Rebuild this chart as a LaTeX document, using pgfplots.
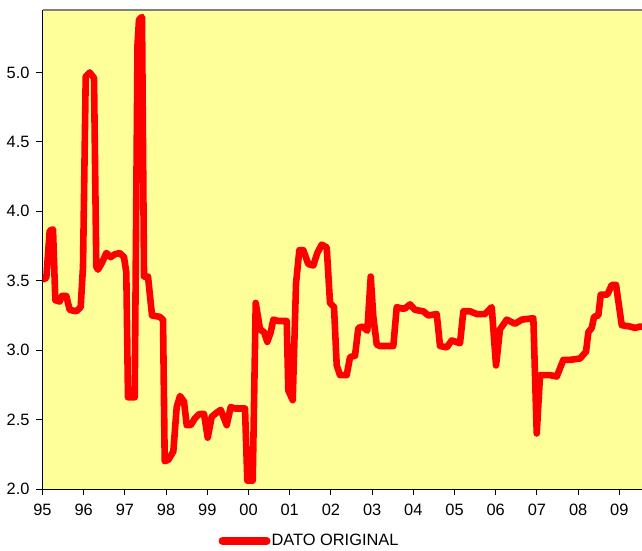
\documentclass[border=0pt]{standalone}
\usepackage{pgfplots}
\pgfplotsset{compat=1.18}
\usepackage{fontspec}
\setmainfont{Liberation Sans}

\definecolor{plotbg}{HTML}{FFFF99}
\definecolor{topline}{HTML}{808080}

\begin{document}
\begin{tikzpicture}
\begin{axis}[
    name=ax,
    at={(0,0)}, anchor=south west,
    scale only axis,
    width=299.75pt, height=239.5pt,
    xmin=0, xmax=14.55,
    ymin=2.0, ymax=5.45,
    axis x line*=bottom,
    axis y line*=left,
    axis line style={black, line width=0.5pt},
    axis background/.style={fill=plotbg},
    xtick={0,1,...,14},
    xticklabels={95,96,97,98,99,00,01,02,03,04,05,06,07,08,09},
    ytick={2.0,2.5,...,5.0},
    yticklabel style={/pgf/number format/.cd, fixed, fixed zerofill, precision=1, assume math mode=true},
    tick style={black, line width=0.5pt},
    tick align=outside,
    major tick length=3pt,
    ticklabel style={font=\fontsize{8.2}{9.8}\selectfont},
    xticklabel style={yshift=-1pt},
    legend style={
        at={(0.293,-0.1086)}, anchor=west,
        draw=none, fill=none,
        font=\fontsize{8.2}{9.8}\selectfont,
        inner sep=0pt, row sep=0pt,
        nodes={inner xsep=0.5pt},
    },
    legend cell align=left,
    legend image code/.code={
        \draw[#1, line width=4pt, line cap=round] (2pt,0pt) -- (24pt,0pt);
    },
]
\addplot[red, line width=3.3pt, line join=round, line cap=round] coordinates {
(0.012,3.51) (0.092,3.52) (0.175,3.86) (0.255,3.87) (0.311,3.36)
(0.417,3.35) (0.473,3.39) (0.578,3.39) (0.660,3.29) (0.820,3.28)
(0.927,3.31) (0.983,3.60) (1.049,4.97) (1.146,5.00) (1.250,4.96)
(1.306,3.60) (1.347,3.58) (1.444,3.63) (1.549,3.70) (1.655,3.67)
(1.752,3.69) (1.874,3.70) (1.978,3.67) (2.034,3.56) (2.075,2.66)
(2.238,2.66) (2.306,5.20) (2.342,5.38) (2.415,5.40) (2.464,3.53)
(2.561,3.53) (2.658,3.25) (2.845,3.24) (2.925,3.22) (2.966,2.20)
(3.053,2.21) (3.175,2.27) (3.257,2.59) (3.337,2.67) (3.434,2.63)
(3.500,2.46) (3.597,2.46) (3.701,2.51) (3.806,2.54) (3.920,2.54)
(4.010,2.37) (4.107,2.52) (4.228,2.55) (4.325,2.57) (4.471,2.46)
(4.568,2.59) (4.672,2.58) (4.915,2.58) (4.971,2.06) (5.102,2.06)
(5.175,3.34) (5.279,3.15) (5.376,3.13) (5.456,3.06) (5.539,3.13)
(5.602,3.22) (5.723,3.21) (5.927,3.21) (5.966,2.71) (6.073,2.64)
(6.153,3.48) (6.233,3.72) (6.330,3.72) (6.451,3.62) (6.573,3.61)
(6.670,3.70) (6.777,3.76) (6.898,3.74) (6.978,3.34) (7.075,3.31)
(7.141,2.89) (7.221,2.82) (7.383,2.82) (7.464,2.95) (7.585,2.96)
(7.665,3.16) (7.772,3.17) (7.883,3.14) (7.966,3.53) (8.029,3.24)
(8.112,3.04) (8.192,3.03) (8.515,3.03) (8.597,3.31) (8.718,3.30)
(8.799,3.30) (8.920,3.33) (9.041,3.29) (9.243,3.28) (9.364,3.25)
(9.568,3.26) (9.648,3.03) (9.811,3.02) (9.932,3.07) (10.133,3.05)
(10.214,3.28) (10.376,3.28) (10.539,3.26) (10.740,3.26) (10.903,3.31)
(11.007,2.89) (11.104,3.15) (11.267,3.22) (11.468,3.19) (11.631,3.22)
(11.913,3.23) (11.995,2.40) (12.075,2.82) (12.318,2.82) (12.481,2.81)
(12.641,2.93) (12.803,2.93) (13.046,2.94) (13.192,2.99) (13.248,3.13)
(13.330,3.16) (13.386,3.24) (13.490,3.25) (13.549,3.40) (13.709,3.40)
(13.816,3.47) (13.920,3.47) (14.058,3.18) (14.260,3.17) (14.381,3.16)
(14.502,3.17) (14.624,3.17)
};
\addlegendentry{DATO ORIGINAL}
\draw[topline, line width=0.8pt] (rel axis cs:0,1) -- (rel axis cs:1,1);
\end{axis}
\pgfresetboundingbox
\path[use as bounding box] ([xshift=-21.25pt,yshift=-31pt]ax.south west) rectangle ([yshift=5pt]ax.north east);
\end{tikzpicture}
\end{document}
